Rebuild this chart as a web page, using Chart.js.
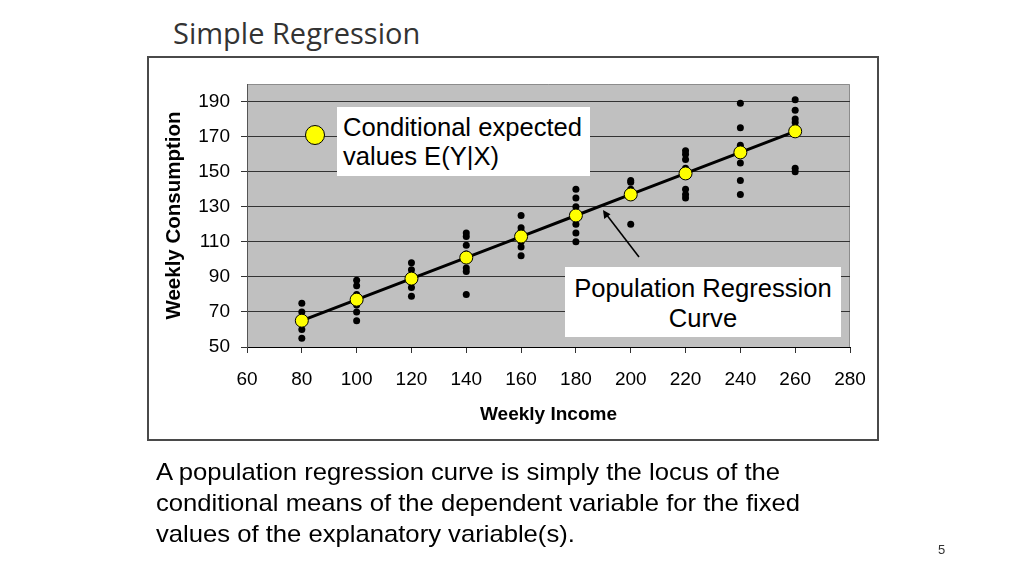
<!DOCTYPE html>
<html>
<head>
<meta charset="utf-8">
<script src="https://cdn.jsdelivr.net/npm/chart.js@4/dist/chart.umd.min.js"></script>
<style>
  html, body { margin: 0; padding: 0; background: #ffffff; }
  body { width: 1024px; height: 576px; position: relative; overflow: hidden; font-family: "Liberation Sans", Arial, sans-serif; }
  #title { position: absolute; left: 173px; top: 16px; font-family: "Open Sans", Lato, sans-serif; font-size: 29px; line-height: 34px; color: #333; white-space: nowrap; }
  #frame { position: absolute; left: 147px; top: 56px; width: 732px; height: 385px; box-sizing: border-box; border: 2px solid #4a4a4a; }
  #chart { position: absolute; left: 0; top: 0; }
  .box { position: absolute; background: #ffffff; color: #000; font-size: 25.6px; box-sizing: border-box; white-space: nowrap; }
  #legendBox { left: 337px; top: 107px; width: 253px; height: 69px; padding: 6px 0 0 6px; line-height: 29px; }
  #curveBox { left: 565px; top: 267px; width: 276px; height: 70px; padding-top: 6px; line-height: 30px; text-align: center; }
  #marker { position: absolute; left: 305px; top: 125px; width: 20px; height: 20px; box-sizing: border-box; border-radius: 50%; background: #ffff00; border: 1px solid #000; }
  #caption { position: absolute; left: 156px; top: 456px; font-size: 24px; line-height: 31px; color: #000; white-space: nowrap; transform: scaleX(1.068); transform-origin: 0 0; }
  #pageNo { position: absolute; left: 938px; top: 543px; font-size: 13px; line-height: 13px; color: #333; }
  #arrow { position: absolute; left: 0; top: 0; }
</style>
</head>
<body>
<div id="title">Simple Regression</div>
<div id="frame"></div>
<canvas id="chart" width="1024" height="576"></canvas>
<div id="marker"></div>
<div class="box" id="legendBox">Conditional expected<br>values E(Y|X)</div>
<div class="box" id="curveBox">Population Regression<br>Curve</div>
<svg id="arrow" width="1024" height="576" xmlns="http://www.w3.org/2000/svg">
  <line x1="639" y1="257" x2="606" y2="214" stroke="#000" stroke-width="1.6"/>
  <polygon points="603,210 604.2,219 610.5,214.2" fill="#000"/>
</svg>
<div id="caption">A population regression curve is simply the locus of the<br>conditional means of the dependent variable for the fixed<br>values of the explanatory variable(s).</div>
<div id="pageNo">5</div>
<script>
// ---- Data ----
const incomeLevels = [80, 100, 120, 140, 160, 180, 200, 220, 240, 260];
const consumption80  = [55, 60, 65, 70, 75];
const consumption100 = [65, 70, 74, 80, 85, 88];
const consumption120 = [79, 84, 90, 94, 98];
const consumption140 = [80, 93, 95, 103, 108, 113, 115];
const consumption160 = [102, 107, 110, 116, 118, 125];
const consumption180 = [110, 115, 120, 130, 135, 140];
const consumption200 = [120, 136, 140, 144, 145];
const consumption220 = [135, 137, 140, 152, 157, 160, 162];
const consumption240 = [137, 145, 155, 165, 175, 189];
const consumption260 = [150, 152, 175, 178, 180, 185, 191];
const conditionalMeans = [65, 77, 89, 101, 113, 125, 137, 149, 161, 173];
const xTickValues = [60, 80, 100, 120, 140, 160, 180, 200, 220, 240, 260, 280];
const yTickValues = [50, 70, 90, 110, 130, 150, 170, 190];

const consumptionGroups = [consumption80, consumption100, consumption120, consumption140, consumption160,
  consumption180, consumption200, consumption220, consumption240, consumption260];

const observations = [];
incomeLevels.forEach((x, i) => consumptionGroups[i].forEach(y => observations.push({ x: x, y: y })));
const meanPoints = incomeLevels.map((x, i) => ({ x: x, y: conditionalMeans[i] }));

const plotBackground = {
  id: 'plotBackground',
  beforeDraw(chart) {
    const { ctx, chartArea: a } = chart;
    ctx.save();
    ctx.fillStyle = '#c0c0c0';
    ctx.fillRect(a.left, a.top, a.right - a.left, a.bottom - a.top);
    ctx.strokeStyle = '#8c8c8c';
    ctx.lineWidth = 1;
    ctx.beginPath();
    ctx.moveTo(a.left, a.top + 0.5);
    ctx.lineTo(a.right - 0.5, a.top + 0.5);
    ctx.lineTo(a.right - 0.5, a.bottom);
    ctx.stroke();
    ctx.restore();
  }
};

Chart.defaults.font.family = '"Liberation Sans", Arial, sans-serif';
Chart.defaults.color = '#000';

new Chart(document.getElementById('chart'), {
  type: 'scatter',
  data: {
    datasets: [
      {
        label: 'Conditional expected values E(Y|X)',
        data: meanPoints,
        order: 0,
        pointRadius: 6.5,
        pointBackgroundColor: '#ffff00',
        pointBorderColor: '#000',
        pointBorderWidth: 1
      },
      {
        label: 'Population Regression Curve',
        data: meanPoints,
        order: 1,
        showLine: true,
        borderColor: '#000',
        borderWidth: 3,
        pointRadius: 0
      },
      {
        label: 'Weekly Consumption',
        data: observations,
        order: 2,
        pointRadius: 3.5,
        pointBackgroundColor: '#000',
        pointBorderColor: '#000',
        pointBorderWidth: 0
      }
    ]
  },
  options: {
    responsive: false,
    animation: false,
    devicePixelRatio: 1,
    events: [],
    layout: { padding: { left: 150, right: 174, top: 84, bottom: 100 } },
    plugins: { legend: { display: false }, tooltip: { enabled: false } },
    scales: {
      x: {
        type: 'linear',
        min: 60,
        max: 280,
        afterBuildTicks(scale) { scale.ticks = xTickValues.map(v => ({ value: v })); },
        afterFit(scale) { scale.height = 129; },
        grid: { drawOnChartArea: false, drawTicks: true, tickLength: 6, color: '#333' },
        border: { display: true, color: '#000', width: 1 },
        ticks: { font: { size: 19 }, padding: 15, color: '#000', maxRotation: 0 },
        title: { display: true, text: 'Weekly Income', font: { size: 19, weight: 'bold' }, color: '#000', padding: { top: 0, bottom: 50 } }
      },
      y: {
        type: 'linear',
        min: 50,
        max: 200,
        afterBuildTicks(scale) { scale.ticks = yTickValues.map(v => ({ value: v })); },
        afterFit(scale) { scale.width = 97; },
        grid: { drawOnChartArea: true, drawTicks: true, tickLength: 6, color: '#333', lineWidth: 1 },
        border: { display: true, color: '#555', width: 1 },
        ticks: { font: { size: 19 }, padding: 11, color: '#000' },
        title: { display: true, text: 'Weekly Consumption', font: { size: 20.5, weight: 'bold' }, color: '#000', padding: { top: 12, bottom: 0 } }
      }
    }
  },
  plugins: [plotBackground]
});
</script>
</body>
</html>
